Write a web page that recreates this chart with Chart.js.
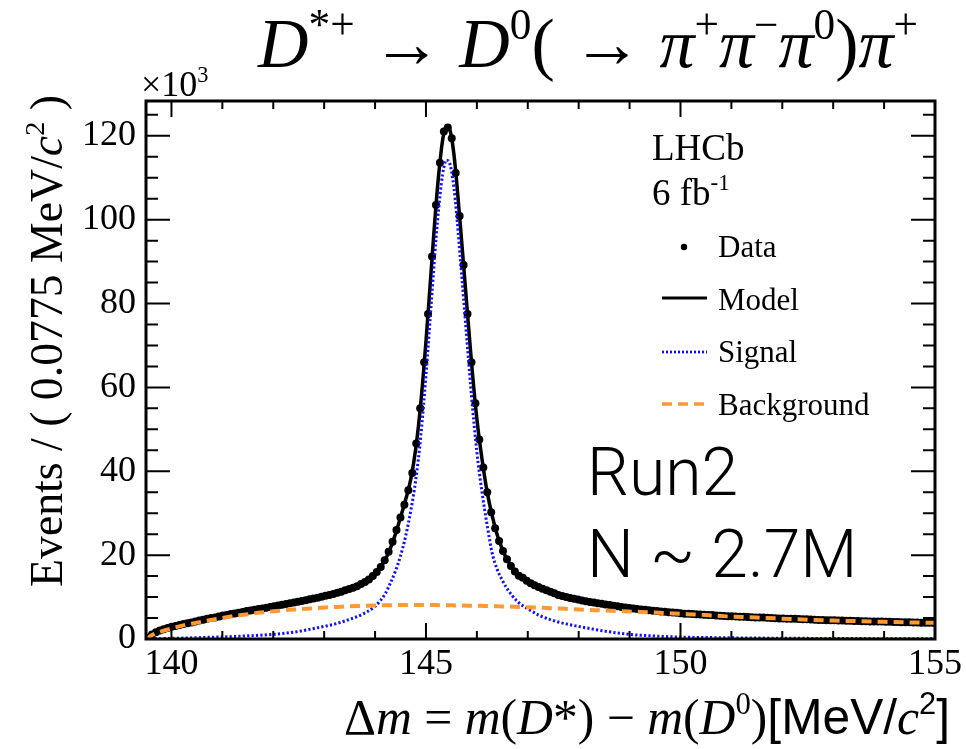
<!DOCTYPE html>
<html><head><meta charset="utf-8">
<script src="https://cdn.jsdelivr.net/npm/chart.js@4.4.1/dist/chart.umd.min.js"></script>
<style>html,body{margin:0;padding:0;background:#fff;}canvas{display:block;}</style>
</head><body>
<canvas id="c" width="966" height="749"></canvas>
<script>
// ---- binning of the histogram ----
const binLow = 139.5;
const binWidth = 0.0775;
// ---- data: events per bin (x10^3), 200 bins ----
const dataCounts = [
  0.3, 1.1, 1.6, 2.0, 2.3, 2.6, 2.9, 3.1, 3.35, 3.55,
  3.75, 3.95, 4.15, 4.4, 4.6, 4.8, 5.0, 5.15, 5.35, 5.6,
  5.75, 5.95, 6.1, 6.25, 6.45, 6.65, 6.8, 6.95, 7.15, 7.3,
  7.45, 7.65, 7.8, 8.0, 8.15, 8.35, 8.5, 8.7, 8.9, 9.05,
  9.25, 9.45, 9.65, 9.85, 10.05, 10.3, 10.5, 10.75, 11.0, 11.25,
  11.6, 11.9, 12.2, 12.6, 13.1, 13.6, 14.2, 15.0, 16.0, 17.2,
  18.8, 20.8, 23.2, 26.0, 29.0, 32.0, 35.5, 39.6, 46.6, 55.0,
  66.0, 77.5, 91.2, 103.5, 113.6, 121.0, 122.0, 119.4, 111.1, 100.9,
  89.2, 77.5, 66.0, 56.2, 47.6, 40.9, 35.0, 30.2, 26.4, 23.4,
  21.0, 19.0, 17.4, 16.1, 15.1, 14.6, 13.9, 13.3, 12.8, 12.4,
  12.0, 11.6, 11.25, 10.9, 10.5, 10.25, 10.0, 9.8, 9.6, 9.4,
  9.2, 9.0, 8.85, 8.7, 8.55, 8.4, 8.25, 8.1, 7.95, 7.8,
  7.65, 7.5, 7.4, 7.25, 7.15, 7.05, 6.95, 6.85, 6.75, 6.65,
  6.55, 6.5, 6.4, 6.3, 6.25, 6.15, 6.05, 6.0, 5.95, 5.9,
  5.85, 5.8, 5.75, 5.7, 5.6, 5.55, 5.5, 5.45, 5.4, 5.35,
  5.3, 5.3, 5.25, 5.2, 5.15, 5.1, 5.1, 5.05, 5.0, 4.95,
  4.9, 4.9, 4.85, 4.8, 4.8, 4.75, 4.7, 4.7, 4.65, 4.6,
  4.55, 4.55, 4.5, 4.5, 4.45, 4.4, 4.4, 4.35, 4.35, 4.3,
  4.3, 4.25, 4.25, 4.2, 4.2, 4.15, 4.15, 4.1, 4.1, 4.05,
  4.05, 4.0, 4.0, 4.0, 3.95, 3.95, 3.9, 3.9, 3.9, 3.85
];
// ---- fit curves ----
const curveX = [139.5,139.55,139.6,139.7,139.8,140.0,140.25,140.5,140.75,141.0,
  141.25,141.5,141.75,142.0,142.25,142.5,142.75,143.0,143.25,143.5,
  143.75,144.0,144.1,144.2,144.3,144.4,144.5,144.6,144.7,144.8,
  144.9,145.0,145.1,145.2,145.3,145.35,145.4,145.45,145.5,145.55,
  145.6,145.7,145.8,145.9,146.0,146.1,146.2,146.3,146.4,146.5,
  146.6,146.8,147.0,147.25,147.5,147.75,148.0,148.5,149.0,149.5,
  150.0,150.5,151.0,151.5,152.0,152.5,153.0,153.5,154.0,154.5,155.0];
const modelY = [0,0.4,1.0,1.65,2.15,2.9,3.7,4.35,4.95,5.55,
  6.1,6.65,7.2,7.75,8.3,8.9,9.55,10.25,11.0,12.0,
  13.4,15.6,17.0,18.9,21.6,25.0,29.0,33.2,38.0,45.5,
  56.5,71.0,87.5,104.0,116.5,120.5,122.3,122.0,119.8,115.5,
  109.5,95.0,80.0,65.2,52.5,43.0,35.2,29.4,24.8,21.4,
  18.8,15.4,13.6,12.2,11.0,10.1,9.3,8.2,7.35,6.7,
  6.05,5.7,5.35,5.1,4.85,4.6,4.4,4.25,4.1,3.95,3.85];
const signalY = [0,0,0.02,0.05,0.08,0.15,0.22,0.3,0.4,0.5,
  0.6,0.75,0.9,1.1,1.4,1.8,2.4,3.0,3.7,4.7,
  5.9,7.8,9.1,10.8,13.3,16.2,19.8,24.5,30.5,38.0,
  48.6,62.9,79.4,95.9,108.4,112.4,114.2,113.9,111.7,107.5,
  101.5,87.0,72.0,57.2,44.6,35.1,27.3,20.5,16.6,14.0,
  11.9,8.9,7.2,5.5,4.4,3.6,3.0,1.9,1.1,0.7,
  0.45,0.35,0.28,0.22,0.18,0.15,0.12,0.1,0.08,0.07,0.06];
const backgroundY = [0,0.3,0.8,1.4,1.8,2.5,3.3,3.9,4.5,5.0,
  5.5,5.9,6.3,6.6,6.9,7.1,7.3,7.5,7.65,7.8,
  7.9,8.0,8.0,8.05,8.05,8.1,8.1,8.1,8.1,8.1,
  8.1,8.1,8.1,8.1,8.05,8.05,8.05,8.05,8.05,8.0,
  8.0,8.0,7.95,7.95,7.9,7.9,7.85,7.85,7.8,7.75,
  7.75,7.65,7.55,7.45,7.3,7.2,7.05,6.8,6.55,6.3,
  6.0,5.7,5.35,5.1,4.85,4.6,4.4,4.25,4.1,3.95,3.85];
// ---- axes ----
const xRange = [139.5, 155];
const yRange = [0, 128.3];
const xTickValues = [140, 145, 150, 155];
const yTickValues = [0, 20, 40, 60, 80, 100, 120];
const xMinorTicks = [140,141,142,143,144,145,146,147,148,149,150,151,152,153,154,155];
const yMinorTicks = [0,5,10,15,20,25,30,35,40,45,50,55,60,65,70,75,80,85,90,95,100,105,110,115,120,125];

const SERIF = '"Liberation Serif","Times New Roman",serif';
const SANS = '"Liberation Sans",Arial,sans-serif';
const LIGHT = 'Roboto,"Liberation Sans",sans-serif';

function fontFor(r, size) {
  const s = r.sup ? size * 0.62 : size;
  return (r.it ? 'italic ' : '') + (r.w || 'normal') + ' ' + s + 'px ' + (r.ff || SERIF);
}
function runsWidth(ctx, runs, size) {
  let w = 0;
  for (const r of runs) { ctx.font = fontFor(r, size); w += ctx.measureText(r.t).width; }
  return w;
}
function drawRuns(ctx, runs, x, y, size, align) {
  const w = runsWidth(ctx, runs, size);
  let cx = align === 'right' ? x - w : (align === 'center' ? x - w / 2 : x);
  ctx.textAlign = 'left'; ctx.textBaseline = 'alphabetic';
  for (const r of runs) {
    ctx.font = fontFor(r, size);
    ctx.fillText(r.t, cx, y - (r.sup ? size * 0.4 : 0));
    cx += ctx.measureText(r.t).width;
  }
}
function fitSize(ctx, runs, targetW) { return 50 * targetW / runsWidth(ctx, runs, 50); }

const titleRuns = [{t:'D',it:1},{t:'*+',sup:1},{t:' \u2192 '},{t:'D',it:1},{t:'0',sup:1},{t:'( \u2192 '},
  {t:'\u03C0',it:1},{t:'+',sup:1},{t:'\u03C0',it:1},{t:'\u2212',sup:1},{t:'\u03C0',it:1},{t:'0',sup:1},{t:')'},{t:'\u03C0',it:1},{t:'+',sup:1}];
const xTitleRuns = [{t:'\u0394'},{t:'m',it:1},{t:' = '},{t:'m',it:1},{t:'('},{t:'D',it:1},{t:'*'},{t:')'},{t:' \u2212 '},
  {t:'m',it:1},{t:'('},{t:'D',it:1},{t:'0',sup:1},{t:')'},{t:'[MeV/',ff:SANS},{t:'c',it:1},{t:'2',sup:1,ff:SANS},{t:']',ff:SANS}];
const yTitleRuns = [{t:'Events / ( 0.0775 MeV/'},{t:'c',it:1},{t:'2',sup:1},{t:' )'}];

const decorPlugin = {
  id: 'decor',
  afterDraw(chart) {
    const ctx = chart.ctx;
    const {left, right, top, bottom} = chart.chartArea;
    const xs = chart.scales.x, ys = chart.scales.y;
    ctx.save();
    ctx.strokeStyle = '#000';
    ctx.lineWidth = 2;
    ctx.beginPath();
    for (const v of xMinorTicks) {
      const px = xs.getPixelForValue(v);
      const L = xTickValues.includes(v) ? 16 : 8;
      ctx.moveTo(px, bottom); ctx.lineTo(px, bottom - L);
      ctx.moveTo(px, top); ctx.lineTo(px, top + L);
    }
    for (const v of yMinorTicks) {
      const py = ys.getPixelForValue(v);
      const L = yTickValues.includes(v) ? 24 : 12;
      ctx.moveTo(left, py); ctx.lineTo(left + L, py);
      ctx.moveTo(right, py); ctx.lineTo(right - L, py);
    }
    ctx.stroke();
    ctx.lineWidth = 3;
    ctx.strokeRect(left, top, right - left, bottom - top);

    ctx.fillStyle = '#000';
    // title
    const ts = fitSize(ctx, titleRuns, 660);
    drawRuns(ctx, titleRuns, 258, 67, ts, 'left');
    // x10^3
    drawRuns(ctx, [{t:'\u00D710'},{t:'3',sup:1}], 141, 96, 36, 'left');
    // x axis title
    const xsz = fitSize(ctx, xTitleRuns, 606);
    drawRuns(ctx, xTitleRuns, 950, 734, xsz, 'right');
    // y axis title
    ctx.save();
    ctx.translate(62, 95);
    ctx.rotate(-Math.PI / 2);
    drawRuns(ctx, yTitleRuns, 0, 0, fitSize(ctx, yTitleRuns, 492), 'right');
    ctx.restore();
    // LHCb labels
    drawRuns(ctx, [{t:'LHCb'}], 652, 160, 37, 'left');
    drawRuns(ctx, [{t:'6 fb'},{t:'-1',sup:1}], 652, 205, 37, 'left');
    // legend
    const legendNames = ['Data', 'Model', 'Signal', 'Background'];
    const legendBase = [257, 310, 362, 415];
    legendNames.forEach((n, i) => drawRuns(ctx, [{t:n}], 718, legendBase[i], 31, 'left'));
    ctx.beginPath(); ctx.arc(684, 247, 3.2, 0, Math.PI * 2); ctx.fill();
    ctx.lineCap = 'butt';
    ctx.lineWidth = 3; ctx.strokeStyle = '#000'; ctx.setLineDash([]);
    ctx.beginPath(); ctx.moveTo(662, 298); ctx.lineTo(707, 298); ctx.stroke();
    ctx.strokeStyle = '#1010ff'; ctx.lineWidth = 2.8; ctx.setLineDash([2, 2]);
    ctx.beginPath(); ctx.moveTo(662, 352); ctx.lineTo(707, 352); ctx.stroke();
    ctx.strokeStyle = '#ff9933'; ctx.lineWidth = 3.5; ctx.setLineDash([10, 6]);
    ctx.beginPath(); ctx.moveTo(662, 404); ctx.lineTo(708, 404); ctx.stroke();
    ctx.setLineDash([]);
    // run info
    ctx.fillStyle = '#000';
    drawRuns(ctx, [{t:'Run2', ff:LIGHT, w:'300'}], 587, 495, 66, 'left');
    drawRuns(ctx, [{t:'N ~ 2.7M', ff:LIGHT, w:'300'}], 587, 577, 66, 'left');
    ctx.restore();
  }
};

const dataPoints = dataCounts.map((v, i) => ({x: binLow + binWidth * (i + 0.5), y: v}));
const curve = ys => curveX.map((x, i) => ({x: x, y: ys[i]}));

new Chart(document.getElementById('c').getContext('2d'), {
  type: 'scatter',
  data: {
    datasets: [
      {label: 'Background', data: curve(backgroundY), showLine: true, borderColor: '#ff9933', borderWidth: 4,
       borderDash: [10, 6], pointRadius: 0, cubicInterpolationMode: 'monotone', order: 0},
      {label: 'Signal', data: curve(signalY), showLine: true, borderColor: '#1010ff', borderWidth: 3,
       borderDash: [2.2, 2.2], pointRadius: 0, cubicInterpolationMode: 'monotone', order: 1},
      {label: 'Model', data: curve(modelY), showLine: true, borderColor: '#000', borderWidth: 3.5,
       pointRadius: 0, cubicInterpolationMode: 'monotone', order: 2},
      {label: 'Data', data: dataPoints, showLine: false, pointRadius: 4, pointBackgroundColor: '#000',
       pointBorderWidth: 0, order: 3}
    ]
  },
  options: {
    responsive: false, animation: false, devicePixelRatio: 1,
    layout: {padding: {left: 0, right: 31, top: 101, bottom: 0}},
    plugins: {legend: {display: false}, tooltip: {enabled: false}},
    scales: {
      x: {
        type: 'linear', min: xRange[0], max: xRange[1],
        grid: {display: false, drawTicks: false}, border: {display: false},
        afterBuildTicks: s => { s.ticks = xTickValues.map(v => ({value: v})); },
        afterFit: s => { s.height = 110; },
        ticks: {font: {family: SERIF, size: 36}, color: '#000', padding: 4, autoSkip: false, maxRotation: 0, minRotation: 0}
      },
      y: {
        type: 'linear', min: yRange[0], max: yRange[1],
        grid: {display: false, drawTicks: false}, border: {display: false},
        afterBuildTicks: s => { s.ticks = yTickValues.map(v => ({value: v})); },
        afterFit: s => { s.width = 146; },
        ticks: {font: {family: SERIF, size: 36}, color: '#000', padding: 10}
      }
    }
  },
  plugins: [decorPlugin]
});
</script>
</body></html>
